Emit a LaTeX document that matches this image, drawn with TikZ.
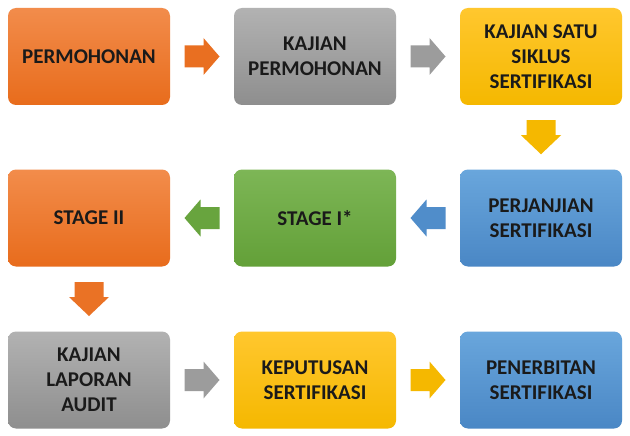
\documentclass[tikz,border=0pt]{standalone}
\usepackage{fontspec}
\setmainfont{Carlito}
\usetikzlibrary{calc}
\definecolor{txt}{HTML}{1A1A1A}
\definecolor{orT}{HTML}{F28C4B}\definecolor{orB}{HTML}{E86C1C}
\definecolor{grT}{HTML}{B2B2B2}\definecolor{grB}{HTML}{8E8E8E}
\definecolor{yeT}{HTML}{FFC72E}\definecolor{yeB}{HTML}{F5B800}
\definecolor{gnT}{HTML}{7DB656}\definecolor{gnB}{HTML}{63A038}
\definecolor{blT}{HTML}{69A6DC}\definecolor{blB}{HTML}{4A87C5}
\tikzset{
  box/.style={rounded corners=8pt, minimum width=162pt, minimum height=97pt,
    align=center, font=\bfseries\fontsize{21}{25}\selectfont, text=txt, inner sep=0pt},
  orangebox/.style={box, top color=orT, bottom color=orB},
  graybox/.style={box, top color=grT, bottom color=grB},
  yellowbox/.style={box, top color=yeT, bottom color=yeB},
  greenbox/.style={box, top color=gnT, bottom color=gnB},
  bluebox/.style={box, top color=blT, bottom color=blB},
  harrow/.pic={\fill[pic actions] (-17.5,-11) -- (1.5,-11) -- (1.5,-18.5) -- (17.5,0) -- (1.5,18.5) -- (1.5,11) -- (-17.5,11) -- cycle;},
  varrow/.pic={\fill[pic actions] (-17,-14.5) -- (-2,-14.5) -- (-2,-20) -- (17,0) -- (-2,20) -- (-2,14.5) -- (-17,14.5) -- cycle;}
}
\begin{document}
\begin{tikzpicture}[x=1pt,y=-1pt]
\useasboundingbox[fill=white] (0,0) rectangle (630,436);
\node[orangebox] (b1) at (89,56.5) {PERMOHONAN};
\node[graybox] (b2) at (315,56.5) {KAJIAN\\PERMOHONAN};
\node[yellowbox] (b3) at (541,56.5) {KAJIAN SATU\\SIKLUS\\SERTIFIKASI};
\node[orangebox] (b4) at (89,218) {STAGE II};
\node[greenbox] (b5) at (315,218) {STAGE I*};
\node[bluebox] (b6) at (541,218) {PERJANJIAN\\SERTIFIKASI};
\node[graybox] (b7) at (89,380) {KAJIAN\\LAPORAN\\AUDIT};
\node[yellowbox] (b8) at (315,380) {KEPUTUSAN\\SERTIFIKASI};
\node[bluebox] (b9) at (541,380) {PENERBITAN\\SERTIFIKASI};
\pic[fill=orB!90!orT] at ($(b1.east)!0.5!(b2.west)$) {harrow};
\pic[fill=grB!60!grT] at ($(b2.east)!0.5!(b3.west)$) {harrow};
\pic[fill=yeB, rotate=-90] at ($(b3.south)!0.5!(b6.north)$) {varrow};
\pic[fill=blB!80!blT, rotate=180] at ($(b6.west)!0.5!(b5.east)$) {harrow};
\pic[fill=gnB!80!gnT, rotate=180] at ($(b5.west)!0.5!(b4.east)$) {harrow};
\pic[fill=orB!80!orT, rotate=-90] at ($(b4.south)!0.5!(b7.north)$) {varrow};
\pic[fill=grB!60!grT] at ($(b7.east)!0.5!(b8.west)$) {harrow};
\pic[fill=yeB] at ($(b8.east)!0.5!(b9.west)$) {harrow};
\end{tikzpicture}
\end{document}
